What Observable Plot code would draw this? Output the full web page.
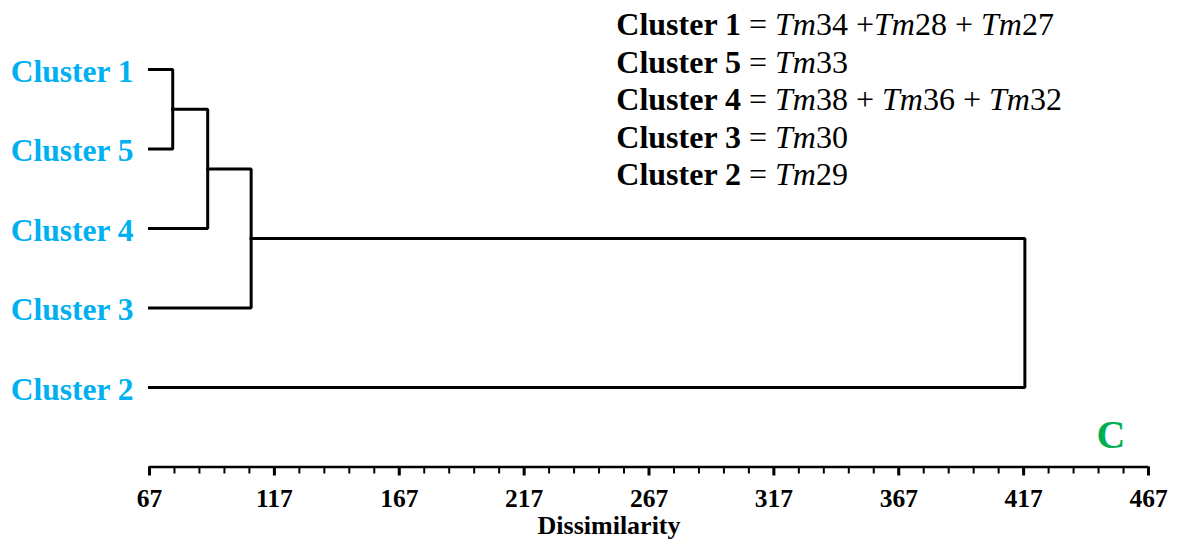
<!DOCTYPE html>
<html><head><meta charset="utf-8">
<script src="https://cdn.jsdelivr.net/npm/d3@7"></script>
<script src="https://cdn.jsdelivr.net/npm/@observablehq/plot@0.6"></script>
<style>body{margin:0;background:#fff} #chart{width:1178px;height:545px}</style>
</head><body><div id="chart"></div>
<script>
// ---- data ----
const leaves = ["Cluster 1", "Cluster 5", "Cluster 4", "Cluster 3", "Cluster 2"];
const mergeLeft = ["Cluster 1", "M1", "M2", "M3"];
const mergeRight = ["Cluster 5", "Cluster 4", "Cluster 3", "Cluster 2"];
const mergeHeight = [76.3, 90.3, 107.7, 417.5];
const axisTicks = [67, 117, 167, 217, 267, 317, 367, 417, 467];
const legendClusters = ["Cluster 1", "Cluster 5", "Cluster 4", "Cluster 3", "Cluster 2"];
const legendMembers = ["Tm34 +Tm28 + Tm27", "Tm33", "Tm38 + Tm36 + Tm32", "Tm30", "Tm29"];
const xLabel = "Dissimilarity";
const panelLetter = "C";

// ---- build dendrogram paths ----
const xMin = axisTicks[0], xMax = axisTicks[axisTicks.length - 1];
const minorTicks = d3.range(xMin, xMax + 0.1, 10);
const pos = new Map(leaves.map((d, i) => [d, {x: xMin, y: i}]));
const paths = [];
mergeHeight.forEach((h, i) => {
  const a = pos.get(mergeLeft[i]), b = pos.get(mergeRight[i]);
  const id = "M" + (i + 1);
  paths.push({id, x: a.x, y: a.y}, {id, x: h, y: a.y}, {id, x: h, y: b.y}, {id, x: b.x, y: b.y});
  pos.set(id, {x: h, y: (a.y + b.y) / 2});
});

const serif = "'Liberation Serif','Times New Roman',Times,serif";
const legendX = 253.9, legendY0 = -0.428, legendStep = 0.4717;

const chart = Plot.plot({
  width: 1178, height: 545,
  marginLeft: 149, marginRight: 30, marginTop: 69, marginBottom: 78.5,
  x: {domain: [xMin, xMax]},
  y: {domain: [0, leaves.length], reverse: true, axis: null},
  style: {fontFamily: serif, background: "#fff", color: "#000"},
  marks: [
    Plot.axisX({ticks: minorTicks, tickSize: 7, strokeWidth: 2, tickFormat: () => "", label: null}),
    Plot.axisX({ticks: axisTicks, tickSize: 9, strokeWidth: 3, tickPadding: 12.5, fontSize: 25.5, fontWeight: "bold",
      tickFormat: d => String(d), label: null}),
    Plot.ruleY([leaves.length], {x1: xMin, x2: xMax, stroke: "#000", strokeWidth: 2.5}),
    Plot.line(paths, {x: "x", y: "y", z: "id", stroke: "#000", strokeWidth: 3, strokeLinejoin: "miter", strokeLinecap: "square"}),
    Plot.text(leaves, {x: xMin, y: (d, i) => i, dx: -16, dy: 2, textAnchor: "end", fontSize: 31.5, fontWeight: "bold", fill: "#00B0F0"}),
    Plot.text(legendClusters, {x: legendX, y: (d, i) => legendY0 + i * legendStep, text: (d, i) => d + " = " + legendMembers[i],
      textAnchor: "start", lineAnchor: "bottom", fontSize: 32, fill: "#000"}),
    Plot.text([xLabel], {x: 251, y: leaves.length, dy: 66.5, lineAnchor: "bottom", fontSize: 26, fontWeight: "bold", fill: "#000"}),
    Plot.text([panelLetter], {x: 452, y: leaves.length, dy: -19.5, lineAnchor: "bottom", fontSize: 40, fontWeight: "bold", fill: "#00B050"})
  ]
});

// rich text for legend lines
d3.select(chart).selectAll("text").filter(function() { return /^Cluster \d+ = /.test(this.textContent); }).each(function() {
  const t = d3.select(this);
  const s = this.textContent;
  const idx = s.indexOf(" = ");
  const head = s.slice(0, idx), rest = s.slice(idx + 3);
  t.text(null).style("white-space", "pre");
  t.append("tspan").attr("font-weight", "bold").text(head);
  t.append("tspan").text(" = ");
  rest.split(/(Tm)/).filter(p => p.length).forEach(p => {
    const sp = t.append("tspan").text(p);
    if (p === "Tm") sp.attr("font-style", "italic");
  });
});
d3.select(chart).selectAll("[aria-label='x-axis tick label'] text").attr("font-weight", "bold");

document.getElementById("chart").appendChild(chart);
</script>
</body></html>
